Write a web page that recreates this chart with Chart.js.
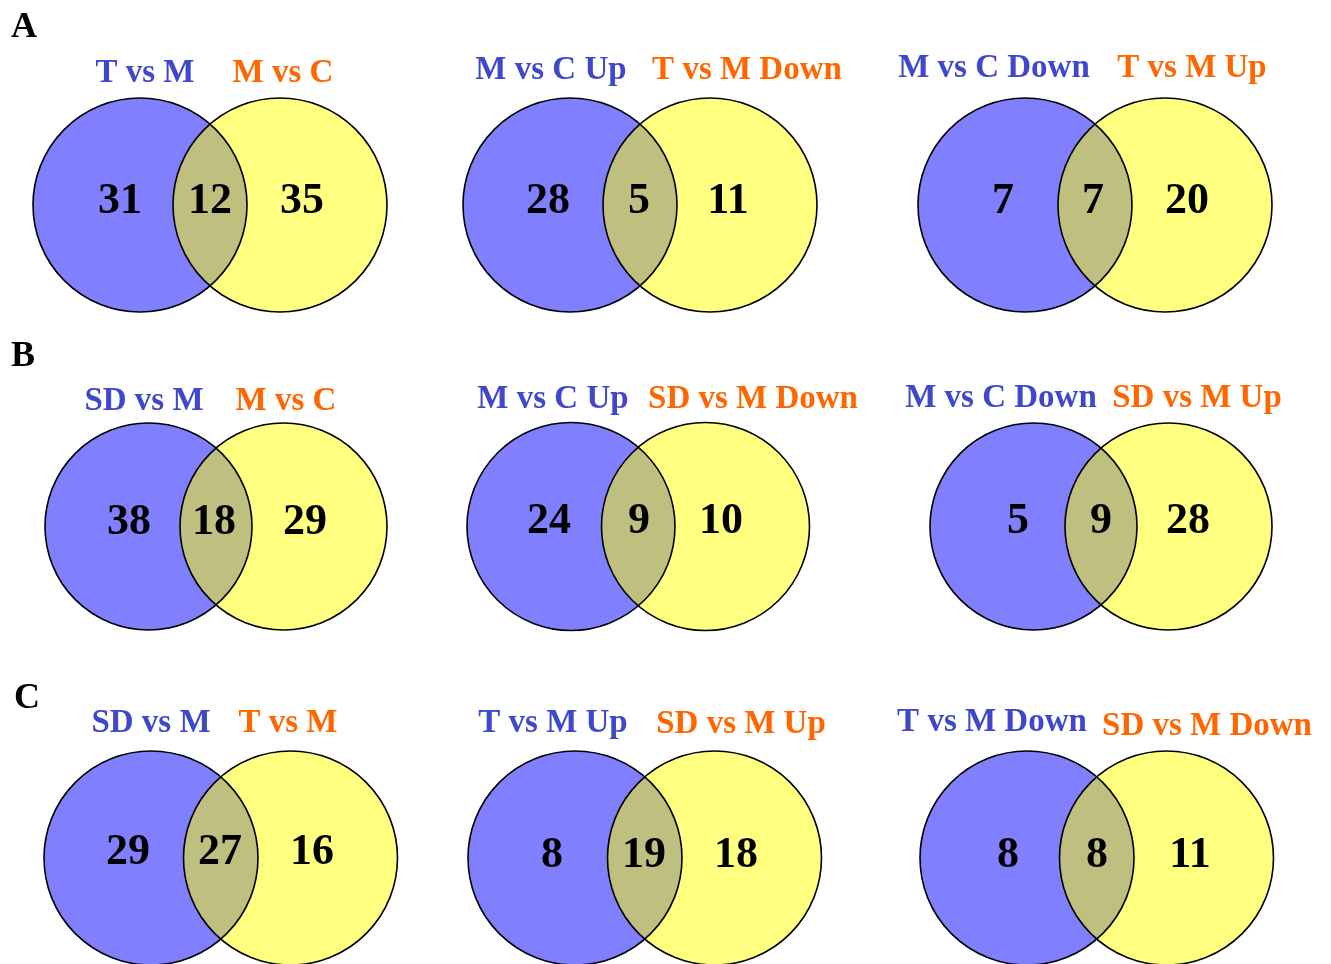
<!DOCTYPE html>
<html>
<head>
<meta charset="utf-8">
<script src="https://cdn.jsdelivr.net/npm/chart.js@4/dist/chart.umd.min.js"></script>
<style>
  html, body { margin: 0; padding: 0; background: #ffffff; }
  canvas { display: block; }
</style>
</head>
<body>
<canvas id="venn" width="1331" height="964"></canvas>
<script>
// Section letters, one per row of diagrams
const panelLetters = ['A', 'B', 'C'];

// Set names for the left (blue) and right (yellow) circle of each diagram
const leftLabels = [
  'T vs M', 'M vs C Up', 'M vs C Down',
  'SD vs M', 'M vs C Up', 'M vs C Down',
  'SD vs M', 'T vs M Up', 'T vs M Down'
];
const rightLabels = [
  'M vs C', 'T vs M Down', 'T vs M Up',
  'M vs C', 'SD vs M Down', 'SD vs M Up',
  'T vs M', 'SD vs M Up', 'SD vs M Down'
];

// Counts: only-left, shared, only-right
const leftOnly  = [31, 28, 7, 38, 24, 5, 29, 8, 8];
const shared    = [12, 5, 7, 18, 9, 9, 27, 19, 8];
const rightOnly = [35, 11, 20, 29, 10, 28, 16, 18, 11];

// Geometry of each diagram in canvas units:
// circle centres / radius, label baselines, and where the counts sit
const layout = [
  { lx: 140,   rx: 280,   cy: 205,   r: 107,   labL: [145, 82],  labR: [283, 82],  nums: [120, 210, 302],   ny: 213 },
  { lx: 570,   rx: 710,   cy: 205,   r: 107,   labL: [551, 79],  labR: [747, 79],  nums: [548, 639, 728],   ny: 213 },
  { lx: 1025,  rx: 1165,  cy: 205,   r: 107,   labL: [994, 77],  labR: [1192, 77], nums: [1003, 1093, 1187], ny: 213 },
  { lx: 148.5, rx: 283.5, cy: 526.5, r: 103.5, labL: [144, 410], labR: [286, 410], nums: [129, 214, 305],   ny: 534 },
  { lx: 571,   rx: 705.5, cy: 526.5, r: 104,   labL: [553, 408], labR: [753, 408], nums: [549, 639, 721],   ny: 533 },
  { lx: 1033.5,rx: 1168.5,cy: 526.5, r: 103.5, labL: [1001, 407],labR: [1197, 407],nums: [1018, 1101, 1188], ny: 533 },
  { lx: 151,   rx: 290.5, cy: 858,   r: 107,   labL: [151, 732], labR: [288, 732], nums: [128, 220, 312],   ny: 864 },
  { lx: 575,   rx: 714.5, cy: 858,   r: 107,   labL: [553, 732], labR: [741, 733], nums: [552, 644, 736],   ny: 867 },
  { lx: 1027,  rx: 1166.5,cy: 858,   r: 107,   labL: [992, 731], labR: [1207, 735],nums: [1008, 1097, 1190], ny: 867 }
];
const letterPos = [[11, 37], [11, 366], [14, 708]];

const BLUE_FILL = '#8080ff';
const YELLOW_FILL = '#ffff80';
const LENS_FILL = '#bfbf80';
const BLUE_TEXT = '#3f48cc';
const ORANGE_TEXT = '#ff6600';
const SERIF = "'Liberation Serif', 'Times New Roman', serif";

const leftCircles = layout.map(g => ({ x: g.lx, y: g.cy, r: g.r }));
const rightCircles = layout.map(g => ({ x: g.rx, y: g.cy, r: g.r }));

// Shaded intersection, outlines, set names and counts
const vennOverlay = {
  id: 'vennOverlay',
  afterDatasetsDraw(chart) {
    const ctx = chart.ctx;
    const xs = chart.scales.x, ys = chart.scales.y;
    const px = v => xs.getPixelForValue(v);
    const py = v => ys.getPixelForValue(v);

    layout.forEach((g, i) => {
      const lx = px(g.lx), rx = px(g.rx), cy = py(g.cy);
      const r = g.r;

      // lens: right circle clipped to the left one
      ctx.save();
      ctx.beginPath();
      ctx.arc(lx, cy, r, 0, Math.PI * 2);
      ctx.clip();
      ctx.beginPath();
      ctx.arc(rx, cy, r, 0, Math.PI * 2);
      ctx.fillStyle = LENS_FILL;
      ctx.fill();
      ctx.restore();

      // outlines
      ctx.save();
      ctx.strokeStyle = '#000000';
      ctx.lineWidth = 1.6;
      [lx, rx].forEach(cx => {
        ctx.beginPath();
        ctx.arc(cx, cy, r, 0, Math.PI * 2);
        ctx.stroke();
      });
      ctx.restore();

      // set names
      ctx.save();
      ctx.font = 'bold 33px ' + SERIF;
      ctx.textAlign = 'center';
      ctx.textBaseline = 'alphabetic';
      ctx.fillStyle = BLUE_TEXT;
      ctx.fillText(leftLabels[i], px(g.labL[0]), py(g.labL[1]));
      ctx.fillStyle = ORANGE_TEXT;
      ctx.fillText(rightLabels[i], px(g.labR[0]), py(g.labR[1]));

      // counts
      ctx.font = 'bold 44px ' + SERIF;
      ctx.fillStyle = '#000000';
      const vals = [leftOnly[i], shared[i], rightOnly[i]];
      vals.forEach((v, k) => {
        ctx.fillText(String(v), px(g.nums[k]), py(g.ny));
      });
      ctx.restore();
    });

    // row letters
    ctx.save();
    ctx.font = 'bold 36px ' + SERIF;
    ctx.fillStyle = '#000000';
    ctx.textAlign = 'left';
    ctx.textBaseline = 'alphabetic';
    panelLetters.forEach((t, i) => {
      ctx.fillText(t, px(letterPos[i][0]), py(letterPos[i][1]));
    });
    ctx.restore();
  }
};

new Chart(document.getElementById('venn'), {
  type: 'bubble',
  data: {
    datasets: [
      {
        label: 'left sets',
        data: leftCircles,
        backgroundColor: BLUE_FILL,
        borderWidth: 0,
        clip: false
      },
      {
        label: 'right sets',
        data: rightCircles,
        backgroundColor: YELLOW_FILL,
        borderWidth: 0,
        clip: false
      }
    ]
  },
  options: {
    responsive: false,
    animation: false,
    events: [],
    layout: { padding: 0, autoPadding: false },
    plugins: {
      legend: { display: false },
      tooltip: { enabled: false },
      title: { display: false }
    },
    scales: {
      x: { type: 'linear', min: 0, max: 1331, display: false },
      y: { type: 'linear', min: 0, max: 964, reverse: true, display: false }
    },
    elements: { point: { hoverRadius: 0 } }
  },
  plugins: [vennOverlay]
});
</script>
</body>
</html>
